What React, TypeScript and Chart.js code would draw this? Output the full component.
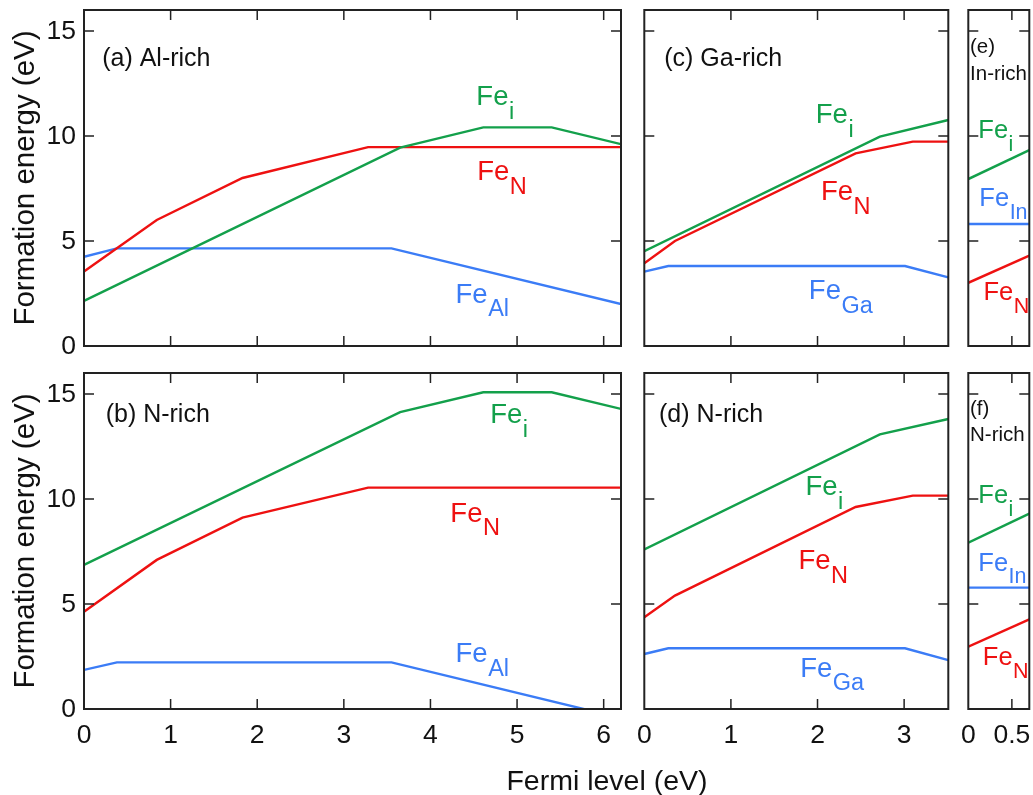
import React, { useEffect, useRef } from "react";
import { Chart, registerables } from "chart.js";
Chart.register(...registerables);

const W = 1033;
const H = 795;
const FONT = '"Liberation Sans", Arial, Helvetica, sans-serif';

const GREEN = "#13a04b";
const RED = "#ee1111";
const BLUE = "#3b7cf6";
const FRAME = "#222222";

// ---------- axes ----------
const Y_MIN = 0;
const Y_MAX = 16;
const yTicks = [0, 5, 10, 15];
const yTickLabels = ["0", "5", "10", "15"];

const alnXMax = 6.2;
const alnXTicks = [0, 1, 2, 3, 4, 5, 6];
const alnXTickLabels = ["0", "1", "2", "3", "4", "5", "6"];
const ganXMax = 3.51;
const ganXTicks = [0, 1, 2, 3];
const ganXTickLabels = ["0", "1", "2", "3"];
const innXMax = 0.7;
const innXTicks = [0, 0.5];
const innXTickLabels = ["0", "0.5"];

const yTitle = "Formation energy (eV)";
const xTitle = "Fermi level (eV)";

// ---------- data: (a) AlN Al-rich ----------
const aFeiX = [0, 3.65, 4.61, 5.4, 6.2];
const aFeiY = [2.15, 9.45, 10.41, 10.41, 9.61];
const aFeNX = [0, 0.84, 1.83, 3.28, 6.2];
const aFeNY = [3.55, 6.0, 8.0, 9.47, 9.47];
const aFeAlX = [0, 0.38, 3.55, 6.2];
const aFeAlY = [4.25, 4.65, 4.65, 2.0];

// ---------- (b) AlN N-rich ----------
const bFeiX = [0, 3.65, 4.61, 5.4, 6.2];
const bFeiY = [6.86, 14.14, 15.08, 15.08, 14.29];
const bFeNX = [0, 0.84, 1.83, 3.28, 6.2];
const bFeNY = [4.63, 7.1, 9.11, 10.54, 10.54];
const bFeAlX = [0, 0.38, 3.55, 6.2];
const bFeAlY = [1.86, 2.22, 2.22, -0.43];

// ---------- (c) GaN Ga-rich ----------
const cFeiX = [0, 2.72, 3.51];
const cFeiY = [4.52, 9.97, 10.76];
const cFeNX = [0, 0.354, 2.44, 3.1, 3.51];
const cFeNY = [3.94, 5.0, 9.17, 9.73, 9.73];
const cFeGaX = [0, 0.277, 3.01, 3.51];
const cFeGaY = [3.54, 3.81, 3.81, 3.27];

// ---------- (d) GaN N-rich ----------
const dFeiX = [0, 2.72, 3.51];
const dFeiY = [7.6, 13.08, 13.81];
const dFeNX = [0, 0.354, 2.44, 3.1, 3.51];
const dFeNY = [4.37, 5.4, 9.62, 10.16, 10.16];
const dFeGaX = [0, 0.277, 3.01, 3.51];
const dFeGaY = [2.62, 2.89, 2.89, 2.33];

// ---------- (e) InN In-rich ----------
const eX = [0, 0.7];
const eFeiY = [7.95, 9.33];
const eFeInY = [5.81, 5.81];
const eFeNY = [3.01, 4.3];

// ---------- (f) InN N-rich ----------
const fX = [0, 0.7];
const fFeiY = [7.92, 9.3];
const fFeInY = [5.78, 5.78];
const fFeNY = [2.97, 4.27];

type Series = { xs: number[]; ys: number[]; color: string };
type Label = {
  x: number;
  y: number;
  main: string;
  sub?: string;
  color: string;
  size: number;
  subSize?: number;
};
type Panel = {
  left: number;
  right: number;
  top: number;
  bottom: number;
  xMax: number;
  xTicks: number[];
  xTickLabels: string[] | null;
  showYLabels: boolean;
  yTitleOn: boolean;
  xTitleOn: boolean;
  series: Series[];
  labels: Label[];
};

const COL1 = { left: 84, right: 621 };
const COL2 = { left: 644.3, right: 948.3 };
const COL3 = { left: 968.3, right: 1029.3 };
const ROW1 = { top: 10, bottom: 346 };
const ROW2 = { top: 373, bottom: 709 };

const panels: Panel[] = [
  {
    ...COL1, ...ROW1, xMax: alnXMax, xTicks: alnXTicks, xTickLabels: null,
    showYLabels: true, yTitleOn: true, xTitleOn: false,
    series: [
      { xs: aFeiX, ys: aFeiY, color: GREEN },
      { xs: aFeNX, ys: aFeNY, color: RED },
      { xs: aFeAlX, ys: aFeAlY, color: BLUE },
    ],
    labels: [
      { x: 0.21, y: 13.35, main: "(a) Al-rich", color: "#111", size: 25 },
      { x: 4.53, y: 11.48, main: "Fe", sub: "i", color: GREEN, size: 27.5, subSize: 23.5 },
      { x: 4.54, y: 7.9, main: "Fe", sub: "N", color: RED, size: 27.5, subSize: 23.5 },
      { x: 4.29, y: 2.06, main: "Fe", sub: "Al", color: BLUE, size: 27.5, subSize: 23.5 },
    ],
  },
  {
    ...COL1, ...ROW2, xMax: alnXMax, xTicks: alnXTicks, xTickLabels: alnXTickLabels,
    showYLabels: true, yTitleOn: true, xTitleOn: false,
    series: [
      { xs: bFeiX, ys: bFeiY, color: GREEN },
      { xs: bFeNX, ys: bFeNY, color: RED },
      { xs: bFeAlX, ys: bFeAlY, color: BLUE },
    ],
    labels: [
      { x: 0.25, y: 13.68, main: "(b) N-rich", color: "#111", size: 25 },
      { x: 4.69, y: 13.6, main: "Fe", sub: "i", color: GREEN, size: 27.5, subSize: 23.5 },
      { x: 4.23, y: 8.92, main: "Fe", sub: "N", color: RED, size: 27.5, subSize: 23.5 },
      { x: 4.29, y: 2.25, main: "Fe", sub: "Al", color: BLUE, size: 27.5, subSize: 23.5 },
    ],
  },
  {
    ...COL2, ...ROW1, xMax: ganXMax, xTicks: ganXTicks, xTickLabels: null,
    showYLabels: false, yTitleOn: false, xTitleOn: false,
    series: [
      { xs: cFeiX, ys: cFeiY, color: GREEN },
      { xs: cFeNX, ys: cFeNY, color: RED },
      { xs: cFeGaX, ys: cFeGaY, color: BLUE },
    ],
    labels: [
      { x: 0.23, y: 13.35, main: "(c) Ga-rich", color: "#111", size: 25 },
      { x: 1.98, y: 10.63, main: "Fe", sub: "i", color: GREEN, size: 27.5, subSize: 23.5 },
      { x: 2.04, y: 6.95, main: "Fe", sub: "N", color: RED, size: 27.5, subSize: 23.5 },
      { x: 1.9, y: 2.24, main: "Fe", sub: "Ga", color: BLUE, size: 27.5, subSize: 23.5 },
    ],
  },
  {
    ...COL2, ...ROW2, xMax: ganXMax, xTicks: ganXTicks, xTickLabels: ganXTickLabels,
    showYLabels: false, yTitleOn: false, xTitleOn: true,
    series: [
      { xs: dFeiX, ys: dFeiY, color: GREEN },
      { xs: dFeNX, ys: dFeNY, color: RED },
      { xs: dFeGaX, ys: dFeGaY, color: BLUE },
    ],
    labels: [
      { x: 0.17, y: 13.65, main: "(d) N-rich", color: "#111", size: 25 },
      { x: 1.86, y: 10.19, main: "Fe", sub: "i", color: GREEN, size: 27.5, subSize: 23.5 },
      { x: 1.78, y: 6.65, main: "Fe", sub: "N", color: RED, size: 27.5, subSize: 23.5 },
      { x: 1.8, y: 1.54, main: "Fe", sub: "Ga", color: BLUE, size: 27.5, subSize: 23.5 },
    ],
  },
  {
    ...COL3, ...ROW1, xMax: innXMax, xTicks: innXTicks, xTickLabels: null,
    showYLabels: false, yTitleOn: false, xTitleOn: false,
    series: [
      { xs: eX, ys: eFeiY, color: GREEN },
      { xs: eX, ys: eFeInY, color: BLUE },
      { xs: eX, ys: eFeNY, color: RED },
    ],
    labels: [
      { x: 0.02, y: 13.95, main: "(e)", color: "#111", size: 20.5 },
      { x: 0.02, y: 12.67, main: "In-rich", color: "#111", size: 20.5 },
      { x: 0.115, y: 9.89, main: "Fe", sub: "i", color: GREEN, size: 25.5, subSize: 21.5 },
      { x: 0.127, y: 6.67, main: "Fe", sub: "In", color: BLUE, size: 25.5, subSize: 21.5 },
      { x: 0.173, y: 2.19, main: "Fe", sub: "N", color: RED, size: 25.5, subSize: 21.5 },
    ],
  },
  {
    ...COL3, ...ROW2, xMax: innXMax, xTicks: innXTicks, xTickLabels: innXTickLabels,
    showYLabels: false, yTitleOn: false, xTitleOn: false,
    series: [
      { xs: fX, ys: fFeiY, color: GREEN },
      { xs: fX, ys: fFeInY, color: BLUE },
      { xs: fX, ys: fFeNY, color: RED },
    ],
    labels: [
      { x: 0.02, y: 14.0, main: "(f)", color: "#111", size: 20.5 },
      { x: 0.02, y: 12.76, main: "N-rich", color: "#111", size: 20.5 },
      { x: 0.115, y: 9.8, main: "Fe", sub: "i", color: GREEN, size: 25.5, subSize: 21.5 },
      { x: 0.115, y: 6.59, main: "Fe", sub: "In", color: BLUE, size: 25.5, subSize: 21.5 },
      { x: 0.167, y: 2.1, main: "Fe", sub: "N", color: RED, size: 25.5, subSize: 21.5 },
    ],
  },
];

const TICK_LEN = 10;

function makePlugin(p: Panel) {
  return {
    id: "frameAndText",
    afterDatasetsDraw(chart: any) {
      const ctx: CanvasRenderingContext2D = chart.ctx;
      const { left, right, top, bottom } = chart.chartArea;
      const xs = chart.scales.x;
      const ys = chart.scales.y;
      ctx.save();
      // frame
      ctx.strokeStyle = FRAME;
      ctx.lineWidth = 2;
      ctx.strokeRect(left, top, right - left, bottom - top);
      // ticks
      ctx.lineWidth = 1.5;
      ctx.beginPath();
      for (const t of p.xTicks) {
        const px = xs.getPixelForValue(t);
        if (px <= left + 1 || px >= right - 1) continue;
        ctx.moveTo(px, bottom);
        ctx.lineTo(px, bottom - TICK_LEN);
        ctx.moveTo(px, top);
        ctx.lineTo(px, top + TICK_LEN);
      }
      for (const t of yTicks) {
        const py = ys.getPixelForValue(t);
        if (py >= bottom - 1 || py <= top + 1) continue;
        ctx.moveTo(left, py);
        ctx.lineTo(left + TICK_LEN, py);
        ctx.moveTo(right, py);
        ctx.lineTo(right - TICK_LEN, py);
      }
      ctx.stroke();

      ctx.fillStyle = "#111";
      // x tick labels
      if (p.xTickLabels) {
        ctx.font = `26.5px ${FONT}`;
        ctx.textAlign = "center";
        ctx.textBaseline = "middle";
        p.xTicks.forEach((t, i) => {
          ctx.fillText(p.xTickLabels![i], xs.getPixelForValue(t), bottom + 27);
        });
      }
      // y tick labels
      if (p.showYLabels) {
        ctx.font = `26.5px ${FONT}`;
        ctx.textAlign = "right";
        ctx.textBaseline = "middle";
        yTicks.forEach((t, i) => {
          ctx.fillText(yTickLabels[i], left - 8, ys.getPixelForValue(t) + 1);
        });
      }
      // y title
      if (p.yTitleOn) {
        ctx.save();
        ctx.translate(26, (top + bottom) / 2);
        ctx.rotate(-Math.PI / 2);
        ctx.font = `29.5px ${FONT}`;
        ctx.textAlign = "center";
        ctx.textBaseline = "middle";
        ctx.fillText(yTitle, 0, 0);
        ctx.restore();
      }
      // x title
      if (p.xTitleOn) {
        ctx.font = `28.5px ${FONT}`;
        ctx.textAlign = "center";
        ctx.textBaseline = "alphabetic";
        ctx.fillText(xTitle, 607, 790);
      }
      // annotations
      for (const lb of p.labels) {
        const px = xs.getPixelForValue(lb.x);
        const py = ys.getPixelForValue(lb.y);
        ctx.fillStyle = lb.color;
        ctx.textAlign = "left";
        ctx.textBaseline = "alphabetic";
        ctx.font = `${lb.size}px ${FONT}`;
        ctx.fillText(lb.main, px, py);
        if (lb.sub) {
          const w = ctx.measureText(lb.main).width;
          ctx.font = `${lb.subSize}px ${FONT}`;
          ctx.fillText(lb.sub, px + w + 0.5, py + lb.size * 0.5);
        }
      }
      ctx.restore();
    },
  };
}

function PanelChart({ p }: { p: Panel }) {
  const ref = useRef<HTMLCanvasElement | null>(null);
  useEffect(() => {
    if (!ref.current) return;
    const chart = new Chart(ref.current, {
      type: "line",
      data: {
        datasets: p.series.map((s) => ({
          data: s.xs.map((x, i) => ({ x, y: s.ys[i] })),
          borderColor: s.color,
          backgroundColor: s.color,
          borderWidth: 2.4,
          pointRadius: 0,
          tension: 0,
          fill: false,
        })),
      },
      options: {
        responsive: false,
        maintainAspectRatio: false,
        animation: false,
        devicePixelRatio: 1,
        events: [],
        layout: {
          padding: {
            left: p.left,
            right: W - p.right,
            top: p.top,
            bottom: H - p.bottom,
          },
        },
        plugins: { legend: { display: false }, tooltip: { enabled: false } },
        scales: {
          x: { type: "linear", min: 0, max: p.xMax, display: false },
          y: { type: "linear", min: Y_MIN, max: Y_MAX, display: false },
        },
      },
      plugins: [makePlugin(p)],
    } as any);
    return () => chart.destroy();
  }, [p]);
  return (
    <canvas
      ref={ref}
      width={W}
      height={H}
      style={{ position: "absolute", left: 0, top: 0, width: W, height: H, pointerEvents: "none" }}
    />
  );
}

export default function App() {
  return (
    <div
      style={{
        position: "fixed",
        left: 0,
        top: 0,
        width: W,
        height: H,
        background: "#ffffff",
        overflow: "hidden",
      }}
    >
      {panels.map((p, i) => (
        <PanelChart key={i} p={p} />
      ))}
    </div>
  );
}
